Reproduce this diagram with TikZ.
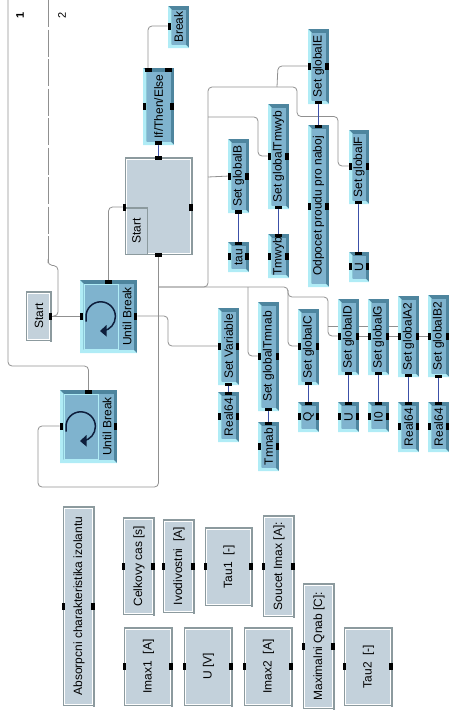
\documentclass[tikz,border=0pt]{standalone}
\usepackage{fontspec}
\setmainfont{Liberation Sans}
\usetikzlibrary{backgrounds}
\definecolor{bface}{HTML}{7FB3CE}
\definecolor{blite}{HTML}{B0ECF6}
\definecolor{bdark}{HTML}{4E859E}
\definecolor{gface}{HTML}{C3D1DB}
\definecolor{gdark}{HTML}{8C9A9E}
\definecolor{wirec}{HTML}{909090}
\definecolor{linkc}{HTML}{3C50A8}
\definecolor{loopc}{HTML}{0E1E3C}
\tikzset{
  porth/.style={fill=black,inner sep=0pt,minimum width=7pt,minimum height=3.2pt},
  portv/.style={fill=black,inner sep=0pt,minimum width=3.2pt,minimum height=7pt},
  wire/.style={draw=wirec,line width=0.8pt,rounded corners=4pt},
  link/.style={draw=linkc,line width=0.9pt},
  label/.style={rotate=90,font=\fontsize{12}{12}\selectfont,text=black,inner sep=0pt},
}
\newcommand\bblock[6]{%
  \fill[bdark] (#2,#3) rectangle (#4,#5);
  \fill[blite] (#2,#3) -- ({#2+3.5},{#3+3.5}) -- ({#2+3.5},{#5-3.5}) -- ({#4-3.5},{#5-3.5}) -- (#4,#5) -- (#2,#5) -- cycle;
  \fill[bface] ({#2+3.5},{#3+3.5}) rectangle ({#4-3.5},{#5-3.5});
  \node[label] (#1) at ({(#2+#4)/2},{(#3+#5)/2}) {#6};
}
\newcommand\gblock[6]{%
  \fill[gdark] (#2,#3) rectangle (#4,#5);
  \fill[white] (#2,{#5-1.3}) rectangle ({#4-2},#5);
  \fill[white] ({#2+1},{#3+2}) rectangle ({#4-2},{#5-2.3});
  \fill[gface] ({#2+2},{#3+3}) rectangle ({#4-3},{#5-3.3});
  \node[label] (#1) at ({(#2+#4)/2},{(#3+#5)/2-0.5}) {#6};
}
\newcommand\loopblock[8]{% name x0 y0 x1 y1 inner-x1 labelx cx
  \fill[bdark] (#2,#3) rectangle (#4,#5);
  \fill[blite] (#2,#3) -- ({#2+3.5},{#3+3.5}) -- ({#2+3.5},{#5-3.5}) -- ({#4-3.5},{#5-3.5}) -- (#4,#5) -- (#2,#5) -- cycle;
  \fill[bface] ({#2+3.5},{#3+3.5}) rectangle ({#4-3.5},{#5-3.5});
  \draw[blite,line width=0.8pt] ({#2+4},{#3+4}) rectangle (#6,{#5-4});
  \node[label] (#1) at (#7,{(#3+#5)/2}) {Until Break};
  \draw[loopc,line width=1.5pt] (#8,{(#3+#5)/2+5}) -- (#8,{(#3+#5)/2}) arc[start angle=180,end angle=440,radius=14.7];
  \fill[loopc] ({#8+14},{(#3+#5)/2+14.5}) -- ({#8+20.5},{(#3+#5)/2+8.5}) -- ({#8+20.5},{(#3+#5)/2+20}) -- cycle;
}
\begin{document}
\begin{tikzpicture}[x=1pt,y=-1pt]
\useasboundingbox (0,0) rectangle (455,712);
\node[label,font=\fontsize{11}{11}\selectfont\bfseries] (lane1) at (20,15) {1};
\node[label,font=\fontsize{11}{11}\selectfont] (lane2) at (62,15) {2};
\coordinate (l1top) at (8,0);
\coordinate (l2top) at (48,0);
% --- top / control blocks
\bblock{brk}{168}{6}{189}{48}{Break}
\bblock{ifte}{143}{68}{174}{145}{If/Then/Else}
\fill[gdark] (125,157) rectangle (193,255);
\fill[white] (126,158.5) rectangle (191,253.5);
\fill[gface] (127,159.5) rectangle (190,252.5);
\fill[gdark] (125,207) rectangle (148,255);
\fill[gface] (126,208.5) rectangle (146.5,253.5);
\fill[white] (126,208.5) rectangle (127,253.5);
\node[label] (framest) at (136.5,231) {Start};
\gblock{startn}{26}{291}{52}{342}{Start}
\loopblock{ubone}{80}{280}{137}{353}{118}{127}{86}
\loopblock{ubtwo}{60}{390}{117}{463}{98}{107}{66}
% --- blue blocks
\bblock{setb}{228}{139}{249}{213}{Set globalB}
\bblock{tau}{228}{242}{249}{272}{tau}
\bblock{settw}{268}{104}{289}{209}{Set globalTmwyb}
\bblock{tw}{268}{234}{289}{278}{Tmwyb}
\bblock{sete}{308}{29}{329}{104}{Set globalE}
\bblock{odp}{308}{125}{329}{287}{Odpocet proudu pro naboj}
\bblock{setf}{349}{130}{369}{204}{Set globalF}
\bblock{uf}{349}{252}{369}{282}{U}
\bblock{setv}{218}{308}{239}{385}{Set Variable}
\bblock{rv}{218}{392}{239}{442}{Real64}
\bblock{settn}{258}{302}{279}{411}{Set globalTmnab}
\bblock{tn}{258}{422}{279}{471}{Tmnab}
\bblock{setc}{298}{309}{319}{385}{Set globalC}
\bblock{q}{298}{402}{319}{432}{Q}
\bblock{setd}{338}{299}{359}{375}{Set globalD}
\bblock{ud}{338}{402}{359}{432}{U}
\bblock{setg}{368}{299}{389}{375}{Set globalG}
\bblock{izero}{368}{402}{389}{432}{I0}
\bblock{seta}{398}{296}{419}{377}{Set globalA2}
\bblock{ra}{398}{402}{419}{452}{Real64}
\bblock{setbb}{428}{295}{449}{377}{Set globalB2}
\bblock{rb}{428}{402}{449}{452}{Real64}
% --- gray blocks
\gblock{abs}{63}{506}{95}{707}{Absorpcni charakteristika izolantu}
\gblock{celk}{123}{517}{155}{616}{Celkovy cas [s]}
\gblock{ivod}{163}{519}{195}{614}{Ivodivostni\ \ [A]}
\gblock{tauone}{205}{527}{253}{607}{Tau1\ \ [-]}
\gblock{souc}{263}{515}{295}{618}{Soucet Imax [A]:}
\gblock{imaxa}{124}{627}{173}{707}{Imax1\ \ [A]}
\gblock{uv}{184}{627}{233}{707}{U [V]}
\gblock{imaxb}{244}{627}{293}{707}{Imax2\ \ [A]}
\gblock{maxq}{303}{583}{335}{710}{Maximalni Qnab [C]:}
\gblock{tautwo}{344}{627}{393}{707}{Tau2\ \ [-]}
% --- ports
\foreach \n/\x/\y in {brkL/169.5/26, iftL/144.5/106, iftR/172/106, frL/124.5/207, frR/191/207,
  stR/50.5/316, uaL/81.5/316, uaR/135.5/316, ubL/61.5/426, ubR/115.5/426,
  sbL/229.5/176, sbR/247/176, tauL/229.5/256, tauR/247/256,
  stwL/269.5/156, stwR/287/156, twL/269.5/256, twR/287/256,
  seL/309.5/66, seR/327/66, odL/309.5/206, odR/327/206,
  sfL/350.5/166, sfR/367.5/166, ufL/350.5/266, ufR/367.5/266,
  svL/219.5/346, svR/237.5/346, rvL/219.5/416, rvR/237.5/416,
  stnL/259.5/356, stnR/277.5/356, tnL/259.5/446, tnR/277.5/446,
  scL/299.5/346, scR/317.5/346, qL/299.5/416, qR/317.5/416,
  sdL/339.5/336, sdR/357.5/336, udL/339.5/416, udR/357.5/416,
  sgL/369.5/336, sgR/387.5/336, izL/369.5/416, izR/387.5/416,
  saL/399.5/336, saR/417.5/336, raL/399.5/426, raR/417.5/426,
  sbbL/429.5/336, sbbR/447.5/336, rbL/429.5/426, rbR/447.5/426,
  absL/63.5/606, absR/93/606, ceL/123.5/566, ceR/153/566, ivL/163.5/566, ivR/193/566,
  t1L/205.5/566, t1R/251/566, soL/263.5/566, soR/293/566,
  i1L/124.5/666, i1R/171/666, uvL/184.5/666, uvR/231/666, i2L/244.5/666, i2R/291/666,
  mqL/303.5/646, mqR/333/646, t2L/344.5/666, t2R/391/666}
  {\node[portv] (\n) at (\x,\y) {};}
\foreach \n/\x/\y in {iftTa/148/70, iftTb/168.5/70, iftB/158.5/143, frT/158.5/158, frB/158.5/255,
  uaT/108.5/282, ubT/88.5/392, sbB/238.5/212, tauT/238.5/243.5, stwB/278.5/207.5, twT/278.5/235.5,
  seB/318.5/102.5, odT/318.5/126.5, sfB/358.5/202.5, ufT/358.5/253.5, svB/228.5/384.5, rvT/228.5/393.5,
  stnB/268.5/409.5, tnT/268.5/423.5, scB/308.5/383.5, qT/308.5/403.5, sdB/348.5/373.5, udT/348.5/403.5,
  sgB/378.5/373.5, izT/378.5/403.5, saB/408.5/375.5, raT/408.5/403.5, sbbB/438.5/376.5, rbT/438.5/403.5}
  {\node[porth] (\n) at (\x,\y) {};}
% --- junctions
\coordinate (jt) at (158.5,287);
\coordinate (ja) at (208,117);
\coordinate (jb) at (208,177);
\coordinate (jc) at (208,87);
\coordinate (jd) at (277,87);
\coordinate (jf) at (328,326);
% --- wires
\begin{pgfonlayer}{background}
\draw[wire,dash pattern=on 27pt off 2.5pt] (l2top) -- (48,263);
\draw[wire] (48,263) -- (48,265) -- (58,266) -- (58,316) -- (53,316);
\draw[wire] (l1top) -- (8,366) -- (88.5,366) -- (ubT);
\draw[wire] (stR) -- (uaL);
\draw[wire] (uaT) -- (108.5,207) -- (frL);
\draw[wire] (iftTa) -- (148,26) -- (brkL);
\draw[wire] (uaR) -- (168,316) -- (168,346) -- (svL);
\draw[wire] (frB) -- (158.5,487) -- (38,487) -- (38,426) -- (ubL);
\draw[wire] (jt) -- (288,287) -- (288,346) -- (scL);
\draw[wire] (248,287) -- (248,356) -- (stnL);
\draw[wire] (jt) -- (208,287) -- (jc) -- (297,87) -- (297,116.5) -- (338,116.5) -- (338,166) -- (sfL);
\draw[wire] (ja) -- (258,117) -- (258,156) -- (stwL);
\draw[wire] (jb) -- (sbL);
\draw[wire] (jd) -- (278,66) -- (seL);
\draw[wire] (288,290) -- (288,297) -- (328,297) -- (328,336) -- (sdL);
\draw[wire] (jf) -- (398,326);
\draw[wire] (sdR) -- (sgL);
\draw[wire] (sgR) -- (saL);
\draw[wire] (saR) -- (sbbL);
\draw[link] (iftB) -- (frT);
\draw[link] (sbB) -- (tauT);
\draw[link] (stwB) -- (twT);
\draw[link] (seB) -- (odT);
\draw[link] (sfB) -- (ufT);
\draw[link] (svB) -- (rvT);
\draw[link] (stnB) -- (tnT);
\draw[link] (scB) -- (qT);
\draw[link] (sdB) -- (udT);
\draw[link] (sgB) -- (izT);
\draw[link] (saB) -- (raT);
\draw[link] (sbbB) -- (rbT);
\end{pgfonlayer}
\end{tikzpicture}
\end{document}
